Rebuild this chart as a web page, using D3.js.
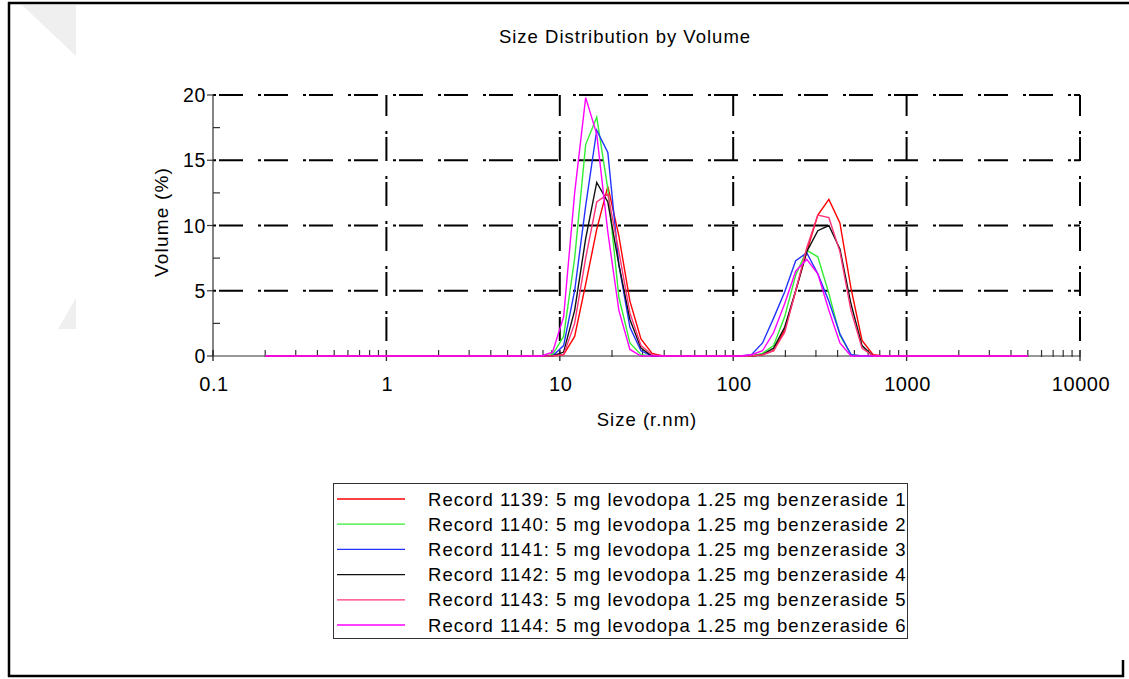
<!DOCTYPE html>
<html>
<head>
<meta charset="utf-8">
<script src="https://cdn.jsdelivr.net/npm/d3@7"></script>
<style>
  html, body { margin: 0; padding: 0; background: #fff; }
  svg { display: block; font-family: "Liberation Sans", Arial, sans-serif; }
</style>
</head>
<body>
<svg id="chart" width="1129" height="679"></svg>
<script>
// Size classes (radius, nm)
const sizes = [0.2, 0.2316, 0.2683, 0.3106, 0.3597, 0.4166, 0.4825, 0.5587, 0.647, 0.7493,
  0.8677, 1.005, 1.164, 1.348, 1.561, 1.807, 2.093, 2.424, 2.807, 3.251,
  3.765, 4.36, 5.049, 5.847, 6.771, 7.842, 9.081, 10.52, 12.18, 14.1,
  16.33, 18.92, 21.91, 25.37, 29.38, 34.03, 39.41, 45.64, 52.85, 61.21,
  70.88, 82.09, 95.06, 110.1, 127.5, 147.6, 171, 198, 229.3, 265.6,
  307.6, 356.2, 412.5, 477.7, 553.2, 640.6, 741.9, 859.1, 994.9, 1152,
  1334, 1545, 1789, 2072, 2400, 2779, 3218, 3727, 4316, 5000];

const rec1139 = [0,0,0,0,0,0,0,0,0,0, 0,0,0,0,0,0,0,0,0,0, 0,0,0,0,0,0,0,0.1,1.5,5.5,
  9.7,13.0,9.2,4.2,1.3,0.2,0,0,0,0, 0,0,0,0,0,0.1,0.4,2.0,5.0,8.0,
  10.8,12.0,10.2,5.2,1.2,0.1,0,0,0,0, 0,0,0,0,0,0,0,0,0,0];
const rec1140 = [0,0,0,0,0,0,0,0,0,0, 0,0,0,0,0,0,0,0,0,0, 0,0,0,0,0,0,0.1,1.5,7.5,16.2,
  18.3,12.8,4.5,1.0,0.1,0,0,0,0,0, 0,0,0,0,0,0.2,0.8,3.0,6.2,8.1,
  7.6,4.8,1.6,0.1,0,0,0,0,0,0, 0,0,0,0,0,0,0,0,0,0];
const rec1141 = [0,0,0,0,0,0,0,0,0,0, 0,0,0,0,0,0,0,0,0,0, 0,0,0,0,0,0,0,0.8,5.0,11.5,
  17.3,15.6,7.0,2.2,0.4,0,0,0,0,0, 0,0,0,0,0.1,1.0,2.9,4.9,7.3,7.9,
  6.3,4.2,1.7,0.1,0,0,0,0,0,0, 0,0,0,0,0,0,0,0,0,0];
const rec1142 = [0,0,0,0,0,0,0,0,0,0, 0,0,0,0,0,0,0,0,0,0, 0,0,0,0,0,0,0,0.3,3.5,9.0,
  13.3,11.8,7.0,2.8,0.6,0,0,0,0,0, 0,0,0,0,0,0.1,0.6,2.2,5.0,8.0,
  9.6,10.0,8.2,4.0,0.8,0,0,0,0,0, 0,0,0,0,0,0,0,0,0,0];
const rec1143 = [0,0,0,0,0,0,0,0,0,0, 0,0,0,0,0,0,0,0,0,0, 0,0,0,0,0,0,0,0.1,2.5,7.5,
  11.8,12.4,8.0,3.3,0.8,0.1,0,0,0,0, 0,0,0,0,0,0.1,0.4,1.8,5.0,8.3,
  10.8,10.6,8.0,3.5,0.6,0,0,0,0,0, 0,0,0,0,0,0,0,0,0,0];
const rec1144 = [0,0,0,0,0,0,0,0,0,0, 0,0,0,0,0,0,0,0,0,0, 0,0,0,0,0,0,0.3,3.0,12.5,19.8,
  17.0,9.5,3.5,0.5,0,0,0,0,0,0, 0,0,0,0,0.1,0.4,1.8,4.0,6.5,7.4,
  6.3,3.5,1.0,0,0,0,0,0,0,0, 0,0,0,0,0,0,0,0,0,0];

const seriesNames = [
  "Record 1139: 5 mg levodopa 1.25 mg benzeraside 1",
  "Record 1140: 5 mg levodopa 1.25 mg benzeraside 2",
  "Record 1141: 5 mg levodopa 1.25 mg benzeraside 3",
  "Record 1142: 5 mg levodopa 1.25 mg benzeraside 4",
  "Record 1143: 5 mg levodopa 1.25 mg benzeraside 5",
  "Record 1144: 5 mg levodopa 1.25 mg benzeraside 6"];
const seriesColors = ["#ff0000", "#33ee33", "#2233ff", "#111111", "#ff3377", "#ff00ff"];
const seriesValues = [rec1139, rec1140, rec1141, rec1142, rec1143, rec1144];

const xTickLabels = ["0.1", "1", "10", "100", "1000", "10000"];
const xTickValues = [0.1, 1, 10, 100, 1000, 10000];
const yTickValues = [0, 5, 10, 15, 20];

const svg = d3.select("#chart");
const x = d3.scaleLog().domain([0.1, 10000]).range([213, 1080]);
const y = d3.scaleLinear().domain([0, 20]).range([356, 95]);

// background artifacts (light gray triangles)
svg.append("polygon").attr("points", "22,5 76,5 76,56").attr("fill", "#efefef");
svg.append("polygon").attr("points", "76,298 76,329 58,329").attr("fill", "#efefef");

// frame
const frame = svg.append("g").attr("stroke", "#000").attr("stroke-width", 2.5).attr("fill", "none");
frame.append("line").attr("x1", 9).attr("y1", 2).attr("x2", 9).attr("y2", 677);
frame.append("line").attr("x1", 8).attr("y1", 3).attr("x2", 1129).attr("y2", 3);
frame.append("line").attr("x1", 8).attr("y1", 676).attr("x2", 1124).attr("y2", 676);
frame.append("line").attr("x1", 1123).attr("y1", 660).attr("x2", 1123).attr("y2", 677);

// title
svg.append("text").attr("x", 625).attr("y", 43).attr("text-anchor", "middle")
  .attr("font-size", 18.5).attr("letter-spacing", 1).attr("fill", "#000")
  .text("Size Distribution by Volume");

// grid lines (dash-dot)
const dash = "24,15,3,3";
svg.append("g").selectAll("line.hg").data(yTickValues.filter(v => v > 0)).join("line")
  .attr("x1", x(0.1)).attr("x2", x(10000))
  .attr("y1", d => y(d)).attr("y2", d => y(d))
  .attr("stroke", "#000").attr("stroke-width", 2).attr("stroke-dasharray", dash)
  .attr("stroke-dashoffset", -6);
svg.append("g").selectAll("line.vg").data(xTickValues.filter(v => v > 0.1)).join("line")
  .attr("x1", d => x(d)).attr("x2", d => x(d))
  .attr("y1", y(20)).attr("y2", y(0))
  .attr("stroke", "#000").attr("stroke-width", 2).attr("stroke-dasharray", dash)
  .attr("stroke-dashoffset", 3);

// axes
const axisColor = "#333";
svg.append("line").attr("x1", x(0.1)).attr("x2", x(0.1)).attr("y1", y(20)).attr("y2", y(0))
  .attr("stroke", axisColor).attr("stroke-width", 1.2);
svg.append("line").attr("x1", x(0.1)).attr("x2", x(10000)).attr("y1", y(0)).attr("y2", y(0))
  .attr("stroke", axisColor).attr("stroke-width", 1.2);

// y ticks
const yMinor = d3.range(0, 20.01, 2.5);
svg.append("g").selectAll("line").data(yMinor).join("line")
  .attr("x1", x(0.1)).attr("x2", d => (d % 5 === 0 ? x(0.1) - 6 : x(0.1) + 7))
  .attr("y1", d => y(d)).attr("y2", d => y(d))
  .attr("stroke", axisColor).attr("stroke-width", 1.2);
svg.append("g").selectAll("text").data(yTickValues).join("text")
  .attr("x", x(0.1) - 7).attr("y", d => y(d) + 7)
  .attr("text-anchor", "end").attr("font-size", 19.5).attr("letter-spacing", 0.6).attr("fill", "#000")
  .text(d => d);

// x ticks
const xMinor = x.ticks().filter(v => v >= 0.1 && v <= 10000);
svg.append("g").selectAll("line").data(xMinor).join("line")
  .attr("x1", d => x(d)).attr("x2", d => x(d))
  .attr("y1", y(0) + 1).attr("y2", y(0) - 6)
  .attr("stroke", axisColor).attr("stroke-width", 1.2);
svg.append("g").selectAll("line").data(xTickValues).join("line")
  .attr("x1", d => x(d)).attr("x2", d => x(d))
  .attr("y1", y(0) + 5).attr("y2", y(0) - 6)
  .attr("stroke", axisColor).attr("stroke-width", 1.4);
svg.append("g").selectAll("text").data(xTickValues).join("text")
  .attr("x", d => x(d) + 1).attr("y", 391)
  .attr("text-anchor", "middle").attr("font-size", 20).attr("letter-spacing", 0.6).attr("fill", "#000")
  .text((d, i) => xTickLabels[i]);

// axis titles
svg.append("text").attr("x", 647).attr("y", 426).attr("text-anchor", "middle")
  .attr("font-size", 18.5).attr("letter-spacing", 1).attr("fill", "#000").text("Size (r.nm)");
svg.append("text").attr("transform", "translate(168,222) rotate(-90)")
  .attr("text-anchor", "middle").attr("font-size", 19).attr("letter-spacing", 1.2)
  .attr("fill", "#000").text("Volume (%)");

// data lines
const line = d3.line().x((d, i) => x(sizes[i])).y(d => y(d));
svg.append("g").selectAll("path").data(seriesValues).join("path")
  .attr("d", d => line(d))
  .attr("fill", "none")
  .attr("stroke", (d, i) => seriesColors[i])
  .attr("stroke-width", 1.4)
  .attr("stroke-linejoin", "miter");

// legend
const lg = svg.append("g");
lg.append("rect").attr("x", 333.5).attr("y", 483.5).attr("width", 574).attr("height", 155)
  .attr("fill", "#fff").attr("stroke", "#333").attr("stroke-width", 1);
const rowY = i => 499 + i * 25.2;
lg.selectAll("line").data(seriesNames).join("line")
  .attr("x1", 337).attr("x2", 405)
  .attr("y1", (d, i) => rowY(i)).attr("y2", (d, i) => rowY(i))
  .attr("stroke", (d, i) => seriesColors[i]).attr("stroke-width", 1.3);
lg.selectAll("text").data(seriesNames).join("text")
  .attr("x", 428).attr("y", (d, i) => rowY(i) + 6.5)
  .attr("font-size", 18.5).attr("letter-spacing", 1.02).attr("fill", "#000")
  .text(d => d);
</script>
</body>
</html>
